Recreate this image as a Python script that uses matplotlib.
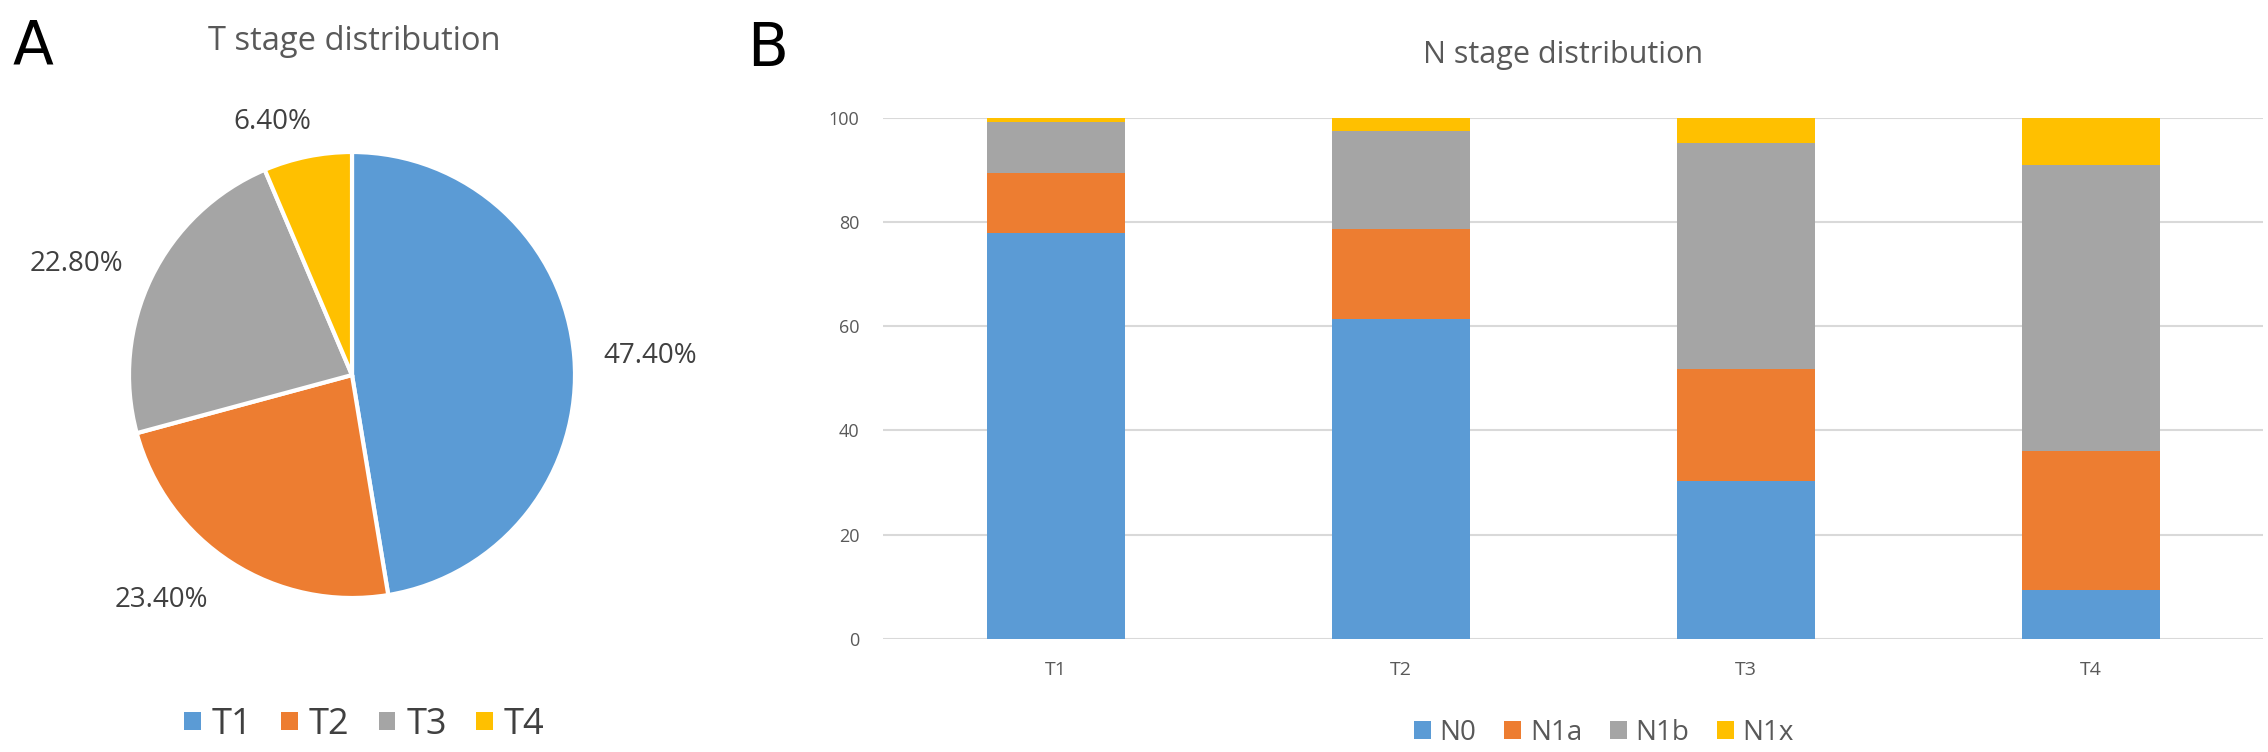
import numpy as np
import matplotlib
matplotlib.use("Agg")
import matplotlib.pyplot as plt
from matplotlib.patches import Patch

plt.rcParams['font.family'] = ['Open Sans', 'DejaVu Sans']

# panel A: T stage
t_stages = ['T1', 'T2', 'T3', 'T4']
t_pct = [47.4, 23.4, 22.8, 6.4]

# panel B: N stage by T stage (percent)
n_stages = ['N0', 'N1a', 'N1b', 'N1x']
n0 = [77.9, 61.4, 30.2, 9.4]
n1a = [11.4, 17.2, 21.5, 26.6]
n1b = [9.9, 18.9, 43.5, 54.9]
n1x = [0.8, 2.5, 4.8, 9.1]

colors = ['#5B9BD5', '#ED7D31', '#A5A5A5', '#FFC000']
txt = '#595959'

# label placement (like excel "best fit")
lab_dist = [1.34, 1.32, 1.33, 1.19]
lab_shift = [-1.0, -7.5, 4.0, 6.0]

W, H = 2268, 752
fig = plt.figure(figsize=(W / 100, H / 100), dpi=100)

# ---- pie ----
cx, cy, r = 352, 375, 223
ax1 = fig.add_axes([(cx - r) / W, 1 - (cy + r) / H, 2 * r / W, 2 * r / H])
wedges, _ = ax1.pie(t_pct, colors=colors, startangle=90, counterclock=False,
                    wedgeprops=dict(edgecolor='white', linewidth=3))
ax1.set_xlim(-1, 1)
ax1.set_ylim(-1, 1)
ax1.set_aspect('equal')
for w, v, d, sh in zip(wedges, t_pct, lab_dist, lab_shift):
    ang = np.deg2rad((w.theta1 + w.theta2) / 2 + sh)
    ax1.text(d * np.cos(ang), d * np.sin(ang), f'{v:.2f}%', ha='center', va='center',
             fontsize=20, color='#404040', clip_on=False)

fig.text(354 / W, 1 - 50 / H, 'T stage distribution', ha='center', va='baseline',
         fontsize=23.5, color=txt)
fig.text(13 / W, 1 - 63 / H, 'A', ha='left', va='baseline', fontsize=43,
         family='DejaVu Sans', color='black')

h1 = [Patch(facecolor=c, edgecolor='none') for c in colors]
fig.legend(h1, t_stages, loc='center', bbox_to_anchor=(364 / W, 1 - 725 / H),
           ncol=4, frameon=False, fontsize=26, handlelength=0.47, handleheight=0.42,
           handletextpad=0.3, columnspacing=0.8, labelcolor='#404040')

# ---- stacked bars ----
x0, x1 = 883, 2263
y0, y1 = 638.7, 117.7
ax2 = fig.add_axes([x0 / W, 1 - y0 / H, (x1 - x0) / W, (y0 - y1) / H])
x = np.arange(len(t_stages))
bottom = np.zeros(len(t_stages))
for vals, c, lab in zip([n0, n1a, n1b, n1x], colors, n_stages):
    ax2.bar(x, vals, 0.4, bottom=bottom, color=c, label=lab, zorder=3)
    bottom += np.array(vals)

ax2.set_xlim(-0.5, 3.5)
ax2.set_ylim(0, 100)
ax2.set_yticks([0, 20, 40, 60, 80, 100])
ax2.set_xticks(x)
ax2.set_xticklabels(t_stages)
ax2.grid(axis='y', color='#D9D9D9', linewidth=1.5, zorder=0)
ax2.tick_params(length=0, labelsize=13, colors=txt)
ax2.tick_params(axis='y', pad=17)
ax2.tick_params(axis='x', pad=16, labelsize=14)
for s in ax2.spines.values():
    s.set_visible(False)

fig.text(1563 / W, 1 - 63 / H, 'N stage distribution', ha='center', va='baseline',
         fontsize=22, color=txt)
fig.text(747 / W, 1 - 66 / H, 'B', ha='left', va='baseline', fontsize=43,
         family='DejaVu Sans', color='black')

h2 = [Patch(facecolor=c, edgecolor='none') for c in colors]
fig.legend(h2, n_stages, loc='center', bbox_to_anchor=(1604 / W, 1 - 733 / H),
           ncol=4, frameon=False, fontsize=20, handlelength=0.62, handleheight=0.62,
           handletextpad=0.3, columnspacing=1.0, labelcolor=txt)

fig.savefig('out.png', dpi=100, facecolor='white')
